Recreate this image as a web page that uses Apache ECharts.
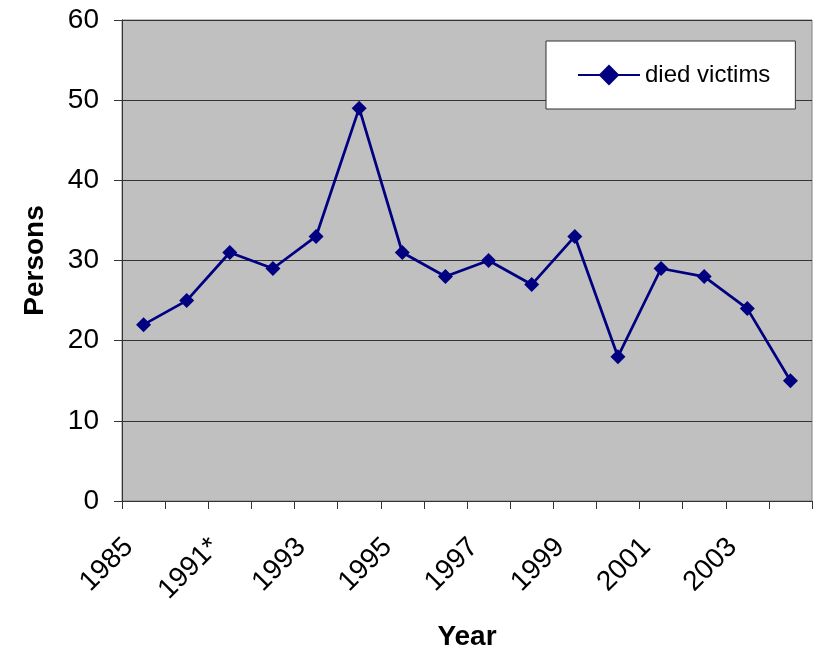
<!DOCTYPE html>
<html>
<head>
<meta charset="utf-8">
<script src="https://cdn.jsdelivr.net/npm/echarts@6/dist/echarts.min.js"></script>
<style>
html,body{margin:0;padding:0;background:#fff;}
#chart{width:817px;height:649px;}
</style>
</head>
<body>
<div id="chart"></div>
<script>
var years = ['1985','1990','1991*','1992','1993','1994','1995','1996','1997','1998','1999','2000','2001','2002','2003','2004'];
var diedVictims = [22,25,31,29,33,49,31,28,30,27,33,18,29,28,24,15];
var yTicks = {min: 0, max: 60, interval: 10};
var seriesName = 'died victims';
var xTitle = 'Year';
var yTitle = 'Persons';

var FONT = '"Liberation Sans", Arial, sans-serif';
var chart = echarts.init(document.getElementById('chart'), null, {renderer: 'canvas'});
chart.setOption({
  animation: false,
  backgroundColor: '#ffffff',
  textStyle: {fontFamily: FONT},
  grid: {
    left: 122, right: 5, top: 20, bottom: 148,
    containLabel: false,
    outerBoundsMode: 'none',
    show: true, backgroundColor: '#c0c0c0', borderColor: '#808080', borderWidth: 1
  },
  legend: {
    show: true,
    left: 546, top: 41,
    padding: [22, 25, 22, 31],
    backgroundColor: '#ffffff',
    borderColor: '#333333', borderWidth: 1,
    itemWidth: 62, itemHeight: 26, itemGap: 0,
    textStyle: {fontFamily: FONT, fontSize: 24, color: '#000'},
    data: [seriesName]
  },
  xAxis: {
    type: 'category',
    data: years,
    boundaryGap: true,
    name: xTitle,
    nameLocation: 'middle',
    nameGap: 122,
    nameTextStyle: {fontFamily: FONT, fontSize: 28, fontWeight: 'bold', color: '#000'},
    axisLine: {show: true, lineStyle: {color: '#333333', width: 1}},
    axisTick: {show: true, interval: 0, length: 8, inside: false, lineStyle: {color: '#333333'}},
    axisLabel: {
      interval: 1, rotate: 45, margin: 27,
      padding: [0, 21, 0, 0],
      fontFamily: FONT, fontSize: 28, color: '#000'
    },
    splitLine: {show: false}
  },
  yAxis: {
    type: 'value',
    min: yTicks.min, max: yTicks.max, interval: yTicks.interval,
    name: yTitle,
    nameLocation: 'middle',
    nameRotate: 90,
    nameGap: 73,
    nameTextStyle: {fontFamily: FONT, fontSize: 28, fontWeight: 'bold', color: '#000'},
    axisLine: {show: true, lineStyle: {color: '#333333', width: 1}},
    axisTick: {show: true, length: 8, lineStyle: {color: '#333333'}},
    axisLabel: {margin: 23, fontFamily: FONT, fontSize: 28, color: '#000'},
    splitLine: {show: true, lineStyle: {color: '#333333', width: 1}}
  },
  series: [{
    name: seriesName,
    type: 'line',
    data: diedVictims,
    symbol: 'diamond',
    symbolSize: 15,
    showAllSymbol: true,
    color: '#000080',
    lineStyle: {color: '#000080', width: 2.75},
    itemStyle: {color: '#000080'}
  }]
});
</script>
</body>
</html>
